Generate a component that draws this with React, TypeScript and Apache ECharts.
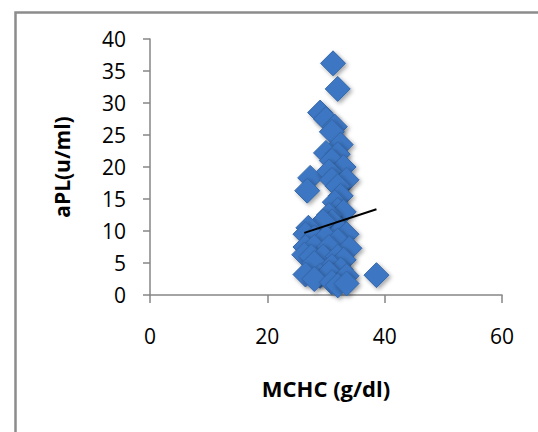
import React, { useEffect, useRef } from "react";
import * as echarts from "echarts";

const mchc: number[] = [
  31.2, 32.0, 29.0, 30.0, 31.5, 31.0, 32.5, 30.0, 32.0, 31.0, 33.0,
  27.3, 26.8, 30.5, 31.0, 33.5, 32.0, 32.5, 31.5, 32.0, 33.0, 30.5,
  31.0, 29.5, 27.0, 26.5, 32.5, 33.5, 28.0, 30.0, 32.0, 26.5, 28.0,
  30.5, 34.0, 26.3, 27.5, 29.5, 32.0, 33.0, 28.0, 31.0, 32.5, 26.5,
  29.0, 30.5, 33.5, 28.0, 31.0, 32.0, 33.5, 38.6,
];
const apl: number[] = [
  36.2, 32.2, 28.5, 27.5, 26.3, 25.5, 23.5, 22.2, 22.0, 21.0, 20.0,
  18.3, 16.3, 19.3, 18.0, 18.0, 17.0, 15.5, 14.5, 13.3, 13.0, 12.5,
  11.5, 11.5, 10.5, 9.5, 10.0, 9.5, 9.0, 9.0, 8.5, 7.5, 7.5,
  7.5, 7.3, 6.3, 6.0, 6.0, 6.0, 5.5, 5.0, 4.5, 4.0, 3.2,
  3.0, 3.5, 3.0, 2.5, 2.0, 1.5, 1.8, 3.1,
];
const trendX: number[] = [26.3, 38.6];
const trendY: number[] = [9.7, 13.4];
const xTicks = { min: 0, max: 60, interval: 20 };
const yTicks = { min: 0, max: 40, interval: 5 };
const xTitle = "MCHC (g/dl)";
const yTitle = "aPL(u/ml)";

export default function App() {
  const ref = useRef<HTMLDivElement>(null);
  useEffect(() => {
    if (!ref.current) return;
    const chart = echarts.init(ref.current, null, { renderer: "svg" });
    const font = "'Open Sans', 'Noto Sans', sans-serif";
    const axisColor = "#868686";
    chart.setOption({
      animation: false,
      backgroundColor: "#ffffff",
      grid: { left: 150, right: 36, top: 39, bottom: 137, containLabel: false },
      xAxis: {
        type: "value",
        min: xTicks.min,
        max: xTicks.max,
        interval: xTicks.interval,
        name: xTitle,
        nameLocation: "middle",
        nameGap: 82,
        nameTextStyle: { fontFamily: font, fontSize: 22, fontWeight: "bold", color: "#000" },
        axisLine: { show: true, onZero: false, lineStyle: { color: axisColor, width: 1.5 } },
        axisTick: { show: true, inside: false, length: 8, lineStyle: { color: axisColor, width: 1.5 } },
        axisLabel: { margin: 30, fontFamily: font, fontSize: 21, color: "#000" },
        splitLine: { show: false },
      },
      yAxis: {
        type: "value",
        min: yTicks.min,
        max: yTicks.max,
        interval: yTicks.interval,
        name: yTitle,
        nameLocation: "middle",
        nameGap: 78,
        nameRotate: 90,
        nameTextStyle: { fontFamily: font, fontSize: 21, fontWeight: "bold", color: "#000" },
        axisLine: { show: true, lineStyle: { color: axisColor, width: 1.5 } },
        axisTick: { show: true, inside: false, length: 7, lineStyle: { color: axisColor, width: 1.5 } },
        axisLabel: { margin: 24, fontFamily: font, fontSize: 21, color: "#000" },
        splitLine: { show: false },
      },
      graphic: [
        {
          type: "rect",
          left: 13,
          top: 10,
          shape: { width: 700, height: 600 },
          style: { fill: "none", stroke: "#8c8c8c", lineWidth: 2.5 },
          silent: true,
          z: -1,
        },
      ],
      series: [
        {
          type: "scatter",
          symbol: "diamond",
          symbolSize: 25,
          data: mchc.map((x, i) => [x, apl[i]]),
          itemStyle: {
            color: "#3d76c2",
            borderColor: "#3466a8",
            borderWidth: 1,
            shadowBlur: 4,
            shadowOffsetX: 2,
            shadowOffsetY: 2,
            shadowColor: "rgba(0,0,0,0.35)",
            opacity: 1,
          },
          z: 2,
        },
        {
          type: "line",
          data: trendX.map((x, i) => [x, trendY[i]]),
          symbol: "none",
          lineStyle: { color: "#000", width: 2 },
          z: 3,
        },
      ],
    });
    return () => chart.dispose();
  }, []);
  return (
    <div
      ref={ref}
      style={{ position: "absolute", left: 0, top: 0, width: 538, height: 432 }}
    />
  );
}
